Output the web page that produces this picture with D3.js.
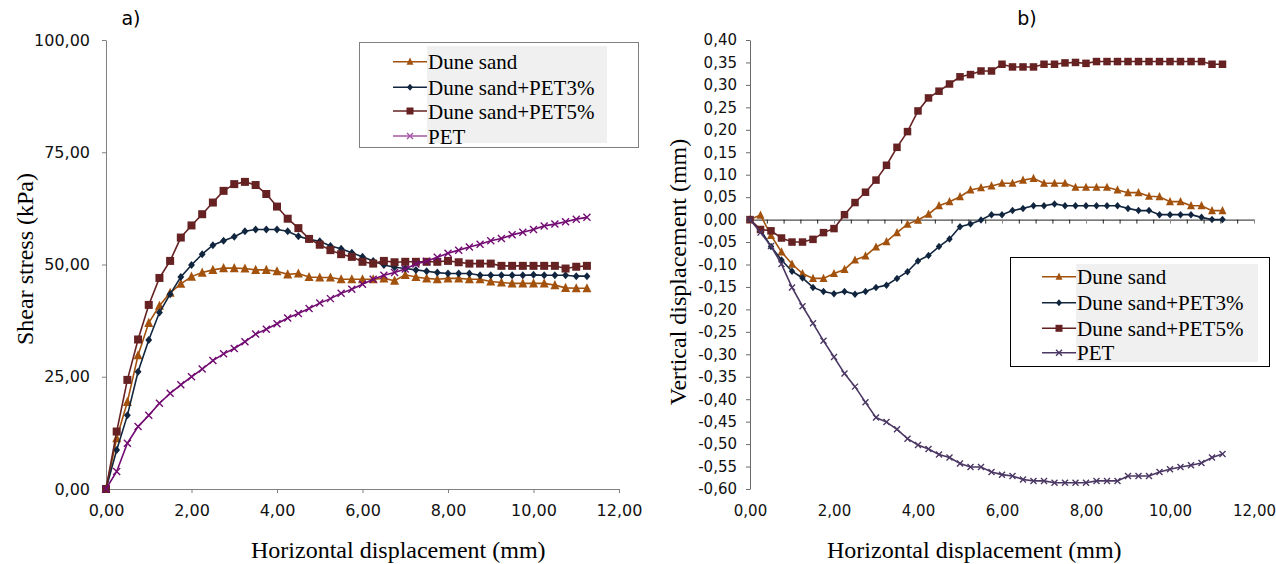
<!DOCTYPE html>
<html>
<head>
<meta charset="utf-8">
<script src="https://cdn.jsdelivr.net/npm/d3@7"></script>
<style>
	body { margin: 0; background: #fff; }
	svg { display: block; }
	.serif { font-family: "Liberation Serif", "Times New Roman", Times, serif; }
	.sans { font-family: "DejaVu Sans", Verdana, sans-serif; }
</style>
</head>
<body>
<script>
// horizontal displacement (mm), one reading every 0.25 mm
const displacement = [0, 0.25, 0.5, 0.75, 1, 1.25, 1.5, 1.75, 2, 2.25, 2.5, 2.75, 3, 3.25, 3.5, 3.75,
	4, 4.25, 4.5, 4.75, 5, 5.25, 5.5, 5.75, 6, 6.25, 6.5, 6.75, 7, 7.25, 7.5, 7.75,
	8, 8.25, 8.5, 8.75, 9, 9.25, 9.5, 9.75, 10, 10.25, 10.5, 10.75, 11, 11.25];

const seriesNames = ["Dune sand", "Dune sand+PET3%", "Dune sand+PET5%", "PET"];

// a) shear stress (kPa)
const shearDune = [0, 11.3, 19.4, 29.8, 37.0, 40.8, 43.7, 45.7, 47.3, 48.2, 48.8, 49.2, 49.2, 49.1, 48.8, 48.8,
	48.5, 47.8, 48.0, 47.2, 47.1, 47.1, 46.7, 46.7, 46.7, 46.7, 46.9, 46.4, 47.7, 47.2, 46.9, 46.7,
	46.9, 46.9, 46.7, 46.7, 46.2, 46.0, 45.8, 45.8, 45.8, 45.8, 45.4, 44.8, 44.7, 44.7];
const shearPet3 = [0, 8.7, 16.4, 26.1, 33.2, 39.3, 43.4, 47.2, 49.9, 52.3, 54.3, 55.3, 56.2, 57.4, 57.8, 57.8,
	57.8, 57.4, 56.3, 55.6, 55.2, 54.1, 53.5, 52.6, 51.7, 50.8, 49.9, 49.4, 49.1, 48.8, 48.5, 48.2,
	48.0, 48.0, 48.0, 47.6, 47.6, 47.6, 47.6, 47.6, 47.7, 47.6, 47.6, 47.6, 47.4, 47.4];
const shearPet5 = [0, 12.8, 24.3, 33.3, 41.0, 47.0, 50.8, 56.0, 58.7, 61.2, 63.8, 66.4, 67.9, 68.4, 67.7, 65.7,
	62.9, 60.2, 58.1, 55.7, 54.4, 53.2, 52.3, 51.7, 50.6, 50.2, 50.8, 50.5, 50.6, 50.6, 50.6, 50.6,
	50.8, 50.5, 50.2, 50.2, 50.2, 49.7, 49.7, 49.7, 49.7, 49.7, 49.7, 49.1, 49.5, 49.7];
const shearPet = [0, 3.9, 10.2, 13.9, 16.4, 19.1, 21.3, 23.2, 25.0, 26.7, 28.6, 30.1, 31.3, 32.8, 34.5, 35.6,
	36.8, 38.1, 39.1, 40.2, 41.4, 42.4, 43.6, 44.5, 45.6, 46.7, 47.6, 48.2, 49.0, 50.1, 50.7, 51.6,
	52.5, 53.2, 53.9, 54.5, 55.3, 55.8, 56.6, 57.2, 57.8, 58.6, 59.0, 59.5, 60.1, 60.5];

// b) vertical displacement (mm)
const vertDune = [0, 0.010, -0.035, -0.072, -0.099, -0.120, -0.131, -0.131, -0.120, -0.111, -0.090, -0.081, -0.061, -0.049, -0.029, -0.010,
	-0.001, 0.012, 0.031, 0.040, 0.051, 0.066, 0.071, 0.075, 0.081, 0.081, 0.088, 0.092, 0.081, 0.081, 0.081, 0.072,
	0.072, 0.072, 0.072, 0.066, 0.060, 0.060, 0.052, 0.051, 0.040, 0.040, 0.031, 0.031, 0.020, 0.020];
const vertPet3 = [0, -0.023, -0.060, -0.090, -0.115, -0.130, -0.151, -0.160, -0.165, -0.160, -0.166, -0.160, -0.151, -0.146, -0.131, -0.116,
	-0.092, -0.080, -0.060, -0.043, -0.016, -0.010, -0.001, 0.011, 0.011, 0.020, 0.025, 0.031, 0.031, 0.035, 0.031, 0.031,
	0.031, 0.031, 0.031, 0.031, 0.025, 0.020, 0.020, 0.011, 0.011, 0.011, 0.011, 0.005, 0.000, 0.000];
const vertPet5 = [0, -0.022, -0.025, -0.041, -0.050, -0.050, -0.044, -0.029, -0.020, 0.011, 0.038, 0.061, 0.088, 0.121, 0.161, 0.196,
	0.242, 0.271, 0.286, 0.302, 0.318, 0.323, 0.331, 0.331, 0.346, 0.340, 0.340, 0.340, 0.346, 0.346, 0.349, 0.350,
	0.348, 0.352, 0.352, 0.352, 0.352, 0.352, 0.352, 0.352, 0.352, 0.352, 0.352, 0.352, 0.346, 0.346];
const vertPet = [0, -0.029, -0.059, -0.099, -0.151, -0.193, -0.231, -0.270, -0.306, -0.343, -0.372, -0.407, -0.441, -0.451, -0.467, -0.488,
	-0.502, -0.511, -0.523, -0.530, -0.543, -0.551, -0.551, -0.562, -0.568, -0.571, -0.579, -0.582, -0.582, -0.586, -0.586, -0.586,
	-0.586, -0.582, -0.582, -0.582, -0.571, -0.571, -0.571, -0.562, -0.556, -0.551, -0.547, -0.542, -0.530, -0.522];

const xTicks = [0, 2, 4, 6, 8, 10, 12];
const shearTicks = [0, 25, 50, 75, 100];
const vertTicks = [-0.6, -0.55, -0.5, -0.45, -0.4, -0.35, -0.3, -0.25, -0.2, -0.15, -0.1, -0.05, 0,
	0.05, 0.1, 0.15, 0.2, 0.25, 0.3, 0.35, 0.4];

const WIDTH = 1276;
const HEIGHT = 564;

const COLORS = { dune: "#a3520e", pet3: "#11263e", pet5: "#662222" };
const MARKERS = ["triangle", "diamond", "square", "cross"];

const svg = d3.select("body").append("svg")
	.attr("width", WIDTH)
	.attr("height", HEIGHT);

const fmt = v => v.toFixed(2).replace(".", ",").replace(/^-0,00$/, "0,00");

function drawMarker(g, type, color, s) {
	if (type === "square") {
		g.append("rect")
			.attr("x", -s / 2).attr("y", -s / 2)
			.attr("width", s).attr("height", s)
			.attr("fill", color);
	} else if (type === "triangle") {
		const h = s * 0.9;
		g.append("path")
			.attr("d", `M0,${-h / 2 - 1}L${s / 2},${h / 2}L${-s / 2},${h / 2}Z`)
			.attr("fill", color);
	} else if (type === "diamond") {
		g.append("path")
			.attr("d", `M0,${-s / 2}L${s * 0.43},0L0,${s / 2}L${-s * 0.43},0Z`)
			.attr("fill", color);
	} else {
		const r = s / 2 - 0.5;
		g.append("path")
			.attr("d", `M${-r},${-r}L${r},${r}M${-r},${r}L${r},${-r}`)
			.attr("stroke", color)
			.attr("stroke-width", 1.4)
			.attr("fill", "none");
	}
}

function drawPanel(cfg) {
	const x = d3.scaleLinear().domain([0, 12]).range(cfg.xRange);
	const y = d3.scaleLinear().domain(cfg.yDomain).range([489, 40]);

	const panel = svg.append("g");

	// y axis
	const yAxis = panel.append("g")
		.attr("transform", `translate(${cfg.xRange[0]},0)`)
		.call(d3.axisLeft(y)
			.tickValues(cfg.yTicks)
			.tickFormat(fmt)
			.tickSizeInner(4)
			.tickSizeOuter(0)
			.tickPadding(cfg.yPad));
	yAxis.attr("font-family", null).attr("font-size", null);
	yAxis.select(".domain").attr("stroke", cfg.axisColor);
	yAxis.selectAll(".tick line").attr("stroke", cfg.axisColor);
	yAxis.selectAll(".tick text")
		.attr("class", "sans")
		.style("font-size", cfg.tickSize + "px")
		.attr("fill", "#111");

	// x axis: at the bottom for a), tick labels only with a zero line for b)
	const xAxis = panel.append("g")
		.attr("transform", "translate(0,489)")
		.call(d3.axisBottom(x)
			.tickValues(xTicks)
			.tickFormat(fmt)
			.tickSizeInner(cfg.zeroLine ? 0 : 4)
			.tickSizeOuter(0)
			.tickPadding(cfg.zeroLine ? 16 : 12));
	xAxis.attr("font-family", null).attr("font-size", null);
	xAxis.select(".domain").attr("stroke", cfg.zeroLine ? "none" : cfg.axisColor);
	xAxis.selectAll(".tick line").attr("stroke", cfg.axisColor);
	xAxis.selectAll(".tick text")
		.attr("class", "sans")
		.style("font-size", cfg.tickSize + "px")
		.attr("fill", "#111");

	if (cfg.zeroLine) {
		const zero = panel.append("g")
			.attr("transform", `translate(0,${y(0)})`)
			.call(d3.axisBottom(x)
				.tickValues(d3.range(0, 12.01, 0.4))
				.tickFormat("")
				.tickSizeInner(4)
				.tickSizeOuter(0));
		zero.select(".domain").attr("stroke", "#222");
		zero.selectAll(".tick line").attr("stroke", (d, i) => i % 5 === 0 ? "#888" : "#222");
	}

	// series
	const line = d3.line()
		.x((d, i) => x(displacement[i]))
		.y(d => y(d));

	cfg.series.forEach((values, k) => {
		const color = cfg.colors[k];
		panel.append("path")
			.datum(values)
			.attr("d", line)
			.attr("fill", "none")
			.attr("stroke", color)
			.attr("stroke-width", 1.6);
		panel.append("g")
			.selectAll("g")
			.data(values)
			.join("g")
			.attr("transform", (d, i) => `translate(${x(displacement[i])},${y(d)})`)
			.each(function () {
				drawMarker(d3.select(this), MARKERS[k], color, cfg.markerSize[k]);
			});
	});

	// legend
	const L = cfg.legend;
	panel.append("rect")
		.attr("x", L.x0 + 0.5).attr("y", L.y0 + 0.5)
		.attr("width", L.x1 - L.x0).attr("height", L.y1 - L.y0)
		.attr("fill", "#fff")
		.attr("stroke", L.border);
	panel.append("rect")
		.attr("x", L.textX).attr("y", L.bgY0)
		.attr("width", L.bgX1 - L.textX).attr("height", L.bgY1 - L.bgY0)
		.attr("fill", "#f0f0f0");
	seriesNames.forEach((name, k) => {
		const ry = L.rows[k];
		const color = L.colors ? L.colors[k] : cfg.colors[k];
		panel.append("line")
			.attr("x1", L.textX - 34).attr("x2", L.textX)
			.attr("y1", ry).attr("y2", ry)
			.attr("stroke", color)
			.attr("stroke-width", 1.6);
		drawMarker(panel.append("g").attr("transform", `translate(${L.textX - 17},${ry})`),
			MARKERS[k], color, 7);
		panel.append("text")
			.attr("class", "serif")
			.attr("x", L.textX + 1)
			.attr("y", ry)
			.attr("dy", "0.36em")
			.style("font-size", "21px")
			.attr("fill", "#000")
			.text(name);
	});

	// titles
	panel.append("text")
		.attr("class", "serif")
		.attr("x", cfg.titleX)
		.attr("y", 550)
		.attr("dy", "0.35em")
		.style("font-size", "24px")
		.text("Horizontal displacement (mm)");
	panel.append("text")
		.attr("class", "serif")
		.attr("transform", `translate(${cfg.yTitle[0]},${cfg.yTitle[1]}) rotate(-90)`)
		.attr("text-anchor", "middle")
		.attr("dy", "0.35em")
		.style("font-size", "24px")
		.text(cfg.yLabel);
	panel.append("text")
		.attr("class", "sans")
		.attr("x", cfg.letterX)
		.attr("y", 18)
		.attr("dy", "0.35em")
		.attr("text-anchor", "middle")
		.style("font-size", "19px")
		.text(cfg.letter);
}

drawPanel({
	xRange: [106, 619],
	yDomain: [0, 100],
	yTicks: shearTicks,
	yPad: 12,
	tickSize: 16,
	axisColor: "#808080",
	zeroLine: false,
	series: [shearDune, shearPet3, shearPet5, shearPet],
	colors: [COLORS.dune, COLORS.pet3, COLORS.pet5, "#720c72"],
	markerSize: [9, 8, 8, 8],
	legend: {
		x0: 359, x1: 638, y0: 42, y1: 147, border: "#808080",
		textX: 427, bgX1: 607, bgY0: 46, bgY1: 143,
		rows: [61.7, 87.3, 111, 136],
		colors: [COLORS.dune, COLORS.pet3, COLORS.pet5, "#a457a4"]
	},
	titleX: 251,
	yTitle: [25, 259],
	yLabel: "Shear stress (kPa)",
	letter: "a)",
	letterX: 131
});

drawPanel({
	xRange: [750, 1254],
	yDomain: [-0.6, 0.4],
	yTicks: vertTicks,
	yPad: 9,
	tickSize: 15,
	axisColor: "#6a6a6a",
	zeroLine: true,
	series: [vertDune, vertPet3, vertPet5, vertPet],
	colors: [COLORS.dune, COLORS.pet3, COLORS.pet5, "#4b3763"],
	markerSize: [8, 7.5, 7.5, 7],
	legend: {
		x0: 1010, x1: 1269, y0: 257, y1: 366, border: "#000",
		textX: 1076, bgX1: 1258, bgY0: 264, bgY1: 362,
		rows: [276.7, 302.7, 328.3, 352.7]
	},
	titleX: 827,
	yTitle: [678, 272],
	yLabel: "Vertical displacement (mm)",
	letter: "b)",
	letterX: 1027
});
</script>
</body>
</html>
